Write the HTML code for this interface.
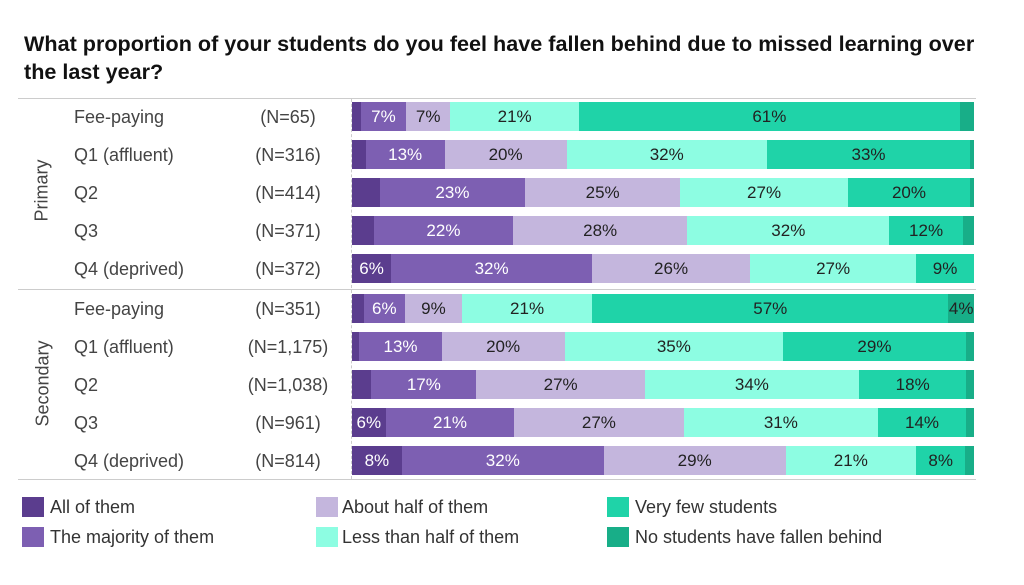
<!DOCTYPE html><html><head><style>
body{margin:0;width:1024px;height:585px;background:#fff;font-family:"Liberation Sans",sans-serif;position:relative;overflow:hidden;color:#222}
.t{position:absolute;left:24px;top:30px;font-size:21.6px;font-weight:bold;line-height:28px;width:1000px;color:#111}
.hl{position:absolute;left:18px;width:958px;height:1px;background:#ccc}
.row{position:absolute;left:352px;width:622px;height:29px;display:flex}
.row div{height:100%;font-size:17px;line-height:29px;text-align:center;white-space:nowrap;overflow:visible}
.c1{background:#5b3d8e;color:#fff}.c2{background:#7d5fb2;color:#fff}.c3{background:#c4b6dd}.c4{background:#8dfde2}.c5{background:#1fd3a8}.c6{background:#18ae88}
.lab{position:absolute;left:74px;font-size:18px;color:#444}
.n{position:absolute;left:236px;width:104px;text-align:center;font-size:18px;color:#444}
.g{position:absolute;font-size:18px;color:#444;transform:rotate(-90deg);transform-origin:center}
.sw{position:absolute;width:22px;height:20px}
.lt{position:absolute;font-size:18px;color:#333}
</style></head><body>
<div class="t">What proportion of your students do you feel have fallen behind due to missed learning over<br>the last year?</div>
<div class="hl" style="top:98px"></div><div class="hl" style="top:289px"></div><div class="hl" style="top:479px"></div>
<div style="position:absolute;left:351px;top:99px;height:380px;border-left:1px dashed #ccc"></div>
<div class="g" style="left:2px;top:180px;width:80px;text-align:center">Primary</div>
<div class="g" style="left:-7px;top:373px;width:100px;text-align:center">Secondary</div>
<div id="rows"></div>
<div class="sw c1" style="left:22px;top:497px"></div><div class="lt" style="left:50px;top:497px">All of them</div>
<div class="sw c2" style="left:22px;top:527px"></div><div class="lt" style="left:50px;top:527px">The majority of them</div>
<div class="sw c3" style="left:316px;top:497px"></div><div class="lt" style="left:342px;top:497px">About half of them</div>
<div class="sw c4" style="left:316px;top:527px"></div><div class="lt" style="left:342px;top:527px">Less than half of them</div>
<div class="sw c5" style="left:607px;top:497px"></div><div class="lt" style="left:635px;top:497px">Very few students</div>
<div class="sw c6" style="left:607px;top:527px"></div><div class="lt" style="left:635px;top:527px">No students have fallen behind</div>
<script>
var d=[
["Fee-paying","(N=65)",[1.4,7.3,7.1,20.7,61.2,2.3],["","7%","7%","21%","61%",""]],
["Q1 (affluent)","(N=316)",[2.2,12.7,19.6,32.2,32.7,0.6],["","13%","20%","32%","33%",""]],
["Q2","(N=414)",[4.5,23.3,25,26.9,19.7,0.6],["","23%","25%","27%","20%",""]],
["Q3","(N=371)",[3.5,22.4,28,32.5,11.8,1.8],["","22%","28%","32%","12%",""]],
["Q4 (deprived)","(N=372)",[6.3,32.3,25.4,26.7,9.3,0],["6%","32%","26%","27%","9%",""]],
["Fee-paying","(N=351)",[1.9,6.6,9.2,20.9,57.3,4.1],["","6%","9%","21%","57%","4%"]],
["Q1 (affluent)","(N=1,175)",[1.2,13.2,19.8,35.1,29.4,1.3],["","13%","20%","35%","29%",""]],
["Q2","(N=1,038)",[3.1,16.9,27.1,34.4,17.3,1.2],["","17%","27%","34%","18%",""]],
["Q3","(N=961)",[5.4,20.7,27.2,31.3,14.1,1.3],["6%","21%","27%","31%","14%",""]],
["Q4 (deprived)","(N=814)",[8,32.5,29.2,21,7.9,1.4],["8%","32%","29%","21%","8%",""]]];
var ys=[102,140,178,216,254,294,332,370,408,446],h="";
d.forEach(function(r,i){var y=ys[i];
h+='<div class="lab" style="top:'+(y+5)+'px">'+r[0]+'</div><div class="n" style="top:'+(y+5)+'px">'+r[1]+'</div><div class="row" style="top:'+y+'px">';
r[2].forEach(function(w,j){h+='<div class="c'+(j+1)+'" style="width:'+w+'%">'+r[3][j]+'</div>'});h+='</div>'});
document.getElementById('rows').innerHTML=h;
</script></body></html>
